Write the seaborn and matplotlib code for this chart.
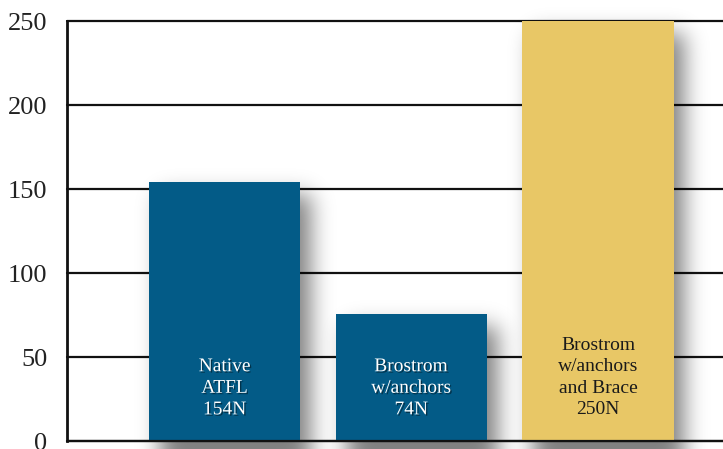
import numpy as np
import pandas as pd
import seaborn as sns
import matplotlib
matplotlib.use("Agg")
import matplotlib.pyplot as plt
import matplotlib.patheffects as pe
from math import erf

# Data
categories = ["Native ATFL", "Brostrom w/anchors", "Brostrom w/anchors and Brace"]
values = [154, 75.5, 250]
bar_labels = ["Native\nATFL\n154N", "Brostrom\nw/anchors\n74N", "Brostrom\nw/anchors\nand Brace\n250N"]
bar_colors = ["#035b87", "#035b87", "#e8c766"]
text_colors = ["white", "white", "#1a1a1a"]
yticks = [0, 50, 100, 150, 200, 250]

sns.set_theme(style="white")
plt.rcParams['font.family'] = ['Liberation Serif', 'DejaVu Serif']

df = pd.DataFrame({"cat": categories, "val": values})

fig = plt.figure(figsize=(7.23, 4.49), dpi=100)
ax = fig.add_axes([67 / 723, 8 / 449, 656 / 723, 420 / 449])

sns.barplot(data=df, x="cat", y="val", hue="cat", palette=bar_colors,
            saturation=1, width=0.81, legend=False, ax=ax, zorder=3,
            linewidth=0, edgecolor="none")

xmin, xmax = -0.845, 2.67
ax.set_xlim(xmin, xmax)
ax.set_ylim(0, 250)

# pixel -> data scale
px_x = (xmax - xmin) / 656
px_y = 250 / 420

# soft drop shadow behind each bar
verf = np.vectorize(erf)
def phi(z):
    return 0.5 * (1 + verf(z / np.sqrt(2)))

sig = 11.0
dx, dy = 11.0, 12.0
for patch in ax.patches:
    x0 = patch.get_x()
    w = patch.get_width()
    h = patch.get_height()
    # work in pixels
    xl = x0 / px_x + dx
    xr = (x0 + w) / px_x + dx
    yt = h / px_y - dy
    yb = -dy - 20
    gx = np.arange(xl - 4 * sig, xr + 4 * sig, 1.0)
    gy = np.arange(yb - 4 * sig, yt + 4 * sig, 1.0)
    ix = phi((gx - xl) / sig) - phi((gx - xr) / sig)
    iy = phi((gy - yb) / sig) - phi((gy - yt) / sig)
    a = np.outer(iy[::-1], ix) * 0.5
    rgba = np.zeros(a.shape + (4,))
    rgba[..., 3] = a
    im = ax.imshow(rgba, extent=[gx[0] * px_x, gx[-1] * px_x,
                                 gy[0] * px_y, gy[-1] * px_y],
                   aspect="auto", zorder=2, interpolation="bilinear")
    im.set_clip_on(False)

ax.set_xlim(xmin, xmax)
ax.set_ylim(0, 250)

# horizontal lines
for t in yticks:
    ax.axhline(t, color="#111111", lw=1.6, zorder=1, clip_on=False)
ax.axhline(0, color="#111111", lw=1.6, zorder=4, clip_on=False)

for s in ["top", "right", "bottom"]:
    ax.spines[s].set_visible(False)
ax.spines["left"].set_color("#111111")
ax.spines["left"].set_linewidth(2)
ax.spines["left"].set_zorder(5)

ax.set_yticks(yticks)
ax.set_yticklabels([str(t) for t in yticks], fontsize=19, color="#222222")
ax.tick_params(axis="y", length=0, pad=14)
ax.set_xticks([])
ax.set_xlabel("")
ax.set_ylabel("")

# labels inside bars
for i, (lab, c) in enumerate(zip(bar_labels, text_colors)):
    effects = [pe.SimplePatchShadow(offset=(1, -1), shadow_rgbFace="black", alpha=0.45), pe.Normal()] if c == "white" else None
    ax.text(i, 13.5, lab, ha="center", va="bottom", multialignment="center",
            fontsize=14, color=c, linespacing=1.35, zorder=6, path_effects=effects)

fig.savefig("out.png", dpi=100)
